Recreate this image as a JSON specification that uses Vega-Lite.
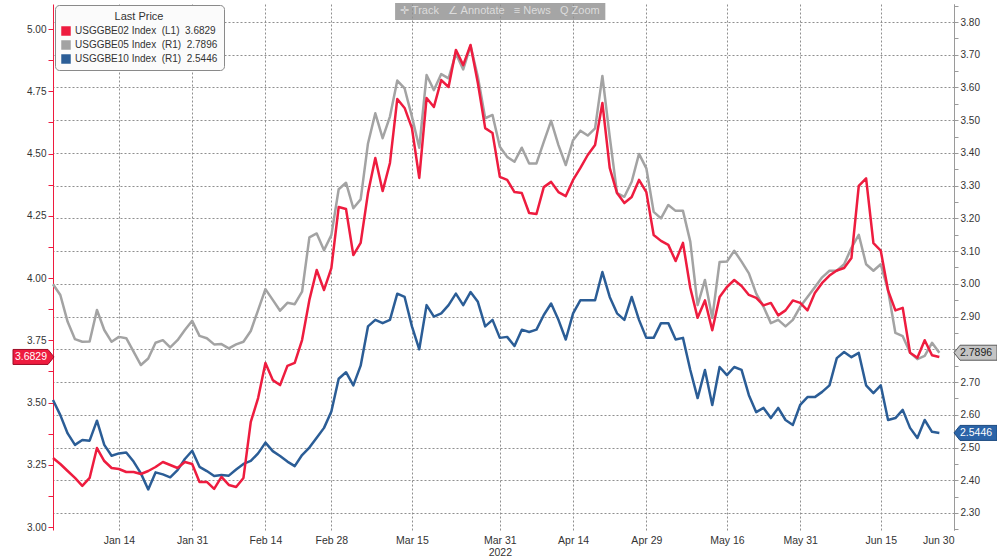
{
  "$schema": "https://vega.github.io/schema/vega-lite/v6.json",
  "width": 901,
  "height": 526,
  "autosize": {"type": "none"},
  "padding": {"left": 53, "top": 4, "right": 43, "bottom": 27},
  "background": "white",
  "config": {"view": {"stroke": null}, "font": "Liberation Sans"},
  "data": {"values": [
    {"date":"2022-01-03","t":0,"be02":3.277,"be05":2.999,"be10":2.645},
    {"date":"2022-01-04","t":1,"be02":3.253,"be05":2.966,"be10":2.599},
    {"date":"2022-01-05","t":2,"be02":3.225,"be05":2.884,"be10":2.543},
    {"date":"2022-01-06","t":3,"be02":3.197,"be05":2.831,"be10":2.508},
    {"date":"2022-01-07","t":4,"be02":3.165,"be05":2.823,"be10":2.523},
    {"date":"2022-01-10","t":5,"be02":3.197,"be05":2.824,"be10":2.521},
    {"date":"2022-01-11","t":6,"be02":3.317,"be05":2.920,"be10":2.582},
    {"date":"2022-01-12","t":7,"be02":3.265,"be05":2.859,"be10":2.508},
    {"date":"2022-01-13","t":8,"be02":3.237,"be05":2.823,"be10":2.475},
    {"date":"2022-01-14","t":9,"be02":3.233,"be05":2.838,"be10":2.482},
    {"date":"2022-01-18","t":10,"be02":3.221,"be05":2.834,"be10":2.485},
    {"date":"2022-01-19","t":11,"be02":3.221,"be05":2.793,"be10":2.457},
    {"date":"2022-01-20","t":12,"be02":3.213,"be05":2.752,"be10":2.421},
    {"date":"2022-01-21","t":13,"be02":3.225,"be05":2.772,"be10":2.372},
    {"date":"2022-01-24","t":14,"be02":3.241,"be05":2.820,"be10":2.424},
    {"date":"2022-01-25","t":15,"be02":3.261,"be05":2.828,"be10":2.418},
    {"date":"2022-01-26","t":16,"be02":3.249,"be05":2.806,"be10":2.409},
    {"date":"2022-01-27","t":17,"be02":3.237,"be05":2.828,"be10":2.431},
    {"date":"2022-01-28","t":18,"be02":3.261,"be05":2.859,"be10":2.465},
    {"date":"2022-01-31","t":19,"be02":3.253,"be05":2.887,"be10":2.490},
    {"date":"2022-02-01","t":20,"be02":3.181,"be05":2.841,"be10":2.441},
    {"date":"2022-02-02","t":21,"be02":3.181,"be05":2.834,"be10":2.428},
    {"date":"2022-02-03","t":22,"be02":3.153,"be05":2.815,"be10":2.413},
    {"date":"2022-02-04","t":23,"be02":3.201,"be05":2.816,"be10":2.416},
    {"date":"2022-02-07","t":24,"be02":3.169,"be05":2.803,"be10":2.414},
    {"date":"2022-02-08","t":25,"be02":3.161,"be05":2.815,"be10":2.433},
    {"date":"2022-02-09","t":26,"be02":3.197,"be05":2.823,"be10":2.450},
    {"date":"2022-02-10","t":27,"be02":3.422,"be05":2.856,"be10":2.459},
    {"date":"2022-02-11","t":28,"be02":3.518,"be05":2.920,"be10":2.482},
    {"date":"2022-02-14","t":29,"be02":3.659,"be05":2.984,"be10":2.515},
    {"date":"2022-02-15","t":30,"be02":3.590,"be05":2.951,"be10":2.489},
    {"date":"2022-02-16","t":31,"be02":3.570,"be05":2.918,"be10":2.474},
    {"date":"2022-02-17","t":32,"be02":3.647,"be05":2.942,"be10":2.457},
    {"date":"2022-02-18","t":33,"be02":3.659,"be05":2.938,"be10":2.443},
    {"date":"2022-02-22","t":34,"be02":3.751,"be05":2.976,"be10":2.477},
    {"date":"2022-02-23","t":35,"be02":3.912,"be05":3.142,"be10":2.500},
    {"date":"2022-02-24","t":36,"be02":4.032,"be05":3.154,"be10":2.530},
    {"date":"2022-02-25","t":37,"be02":3.952,"be05":3.103,"be10":2.560},
    {"date":"2022-02-28","t":38,"be02":4.040,"be05":3.149,"be10":2.610},
    {"date":"2022-03-01","t":39,"be02":4.285,"be05":3.289,"be10":2.710},
    {"date":"2022-03-02","t":40,"be02":4.277,"be05":3.309,"be10":2.730},
    {"date":"2022-03-03","t":41,"be02":4.092,"be05":3.231,"be10":2.690},
    {"date":"2022-03-04","t":42,"be02":4.141,"be05":3.258,"be10":2.750},
    {"date":"2022-03-07","t":43,"be02":4.341,"be05":3.429,"be10":2.870},
    {"date":"2022-03-08","t":44,"be02":4.482,"be05":3.521,"be10":2.890},
    {"date":"2022-03-09","t":45,"be02":4.349,"be05":3.445,"be10":2.880},
    {"date":"2022-03-10","t":46,"be02":4.462,"be05":3.511,"be10":2.890},
    {"date":"2022-03-11","t":47,"be02":4.719,"be05":3.621,"be10":2.970},
    {"date":"2022-03-14","t":48,"be02":4.683,"be05":3.597,"be10":2.960},
    {"date":"2022-03-15","t":49,"be02":4.602,"be05":3.511,"be10":2.870},
    {"date":"2022-03-16","t":50,"be02":4.402,"be05":3.416,"be10":2.800},
    {"date":"2022-03-17","t":51,"be02":4.723,"be05":3.638,"be10":2.935},
    {"date":"2022-03-18","t":52,"be02":4.687,"be05":3.592,"be10":2.900},
    {"date":"2022-03-21","t":53,"be02":4.795,"be05":3.641,"be10":2.910},
    {"date":"2022-03-22","t":54,"be02":4.767,"be05":3.628,"be10":2.935},
    {"date":"2022-03-23","t":55,"be02":4.916,"be05":3.704,"be10":2.970},
    {"date":"2022-03-24","t":56,"be02":4.855,"be05":3.655,"be10":2.935},
    {"date":"2022-03-25","t":57,"be02":4.936,"be05":3.727,"be10":2.975},
    {"date":"2022-03-28","t":58,"be02":4.783,"be05":3.633,"be10":2.945},
    {"date":"2022-03-29","t":59,"be02":4.602,"be05":3.506,"be10":2.870},
    {"date":"2022-03-30","t":60,"be02":4.582,"be05":3.516,"be10":2.890},
    {"date":"2022-03-31","t":61,"be02":4.406,"be05":3.419,"be10":2.835},
    {"date":"2022-04-01","t":62,"be02":4.394,"be05":3.388,"be10":2.838},
    {"date":"2022-04-04","t":63,"be02":4.345,"be05":3.373,"be10":2.810},
    {"date":"2022-04-05","t":64,"be02":4.341,"be05":3.416,"be10":2.860},
    {"date":"2022-04-06","t":65,"be02":4.261,"be05":3.368,"be10":2.853},
    {"date":"2022-04-07","t":66,"be02":4.257,"be05":3.368,"be10":2.860},
    {"date":"2022-04-08","t":67,"be02":4.365,"be05":3.434,"be10":2.905},
    {"date":"2022-04-11","t":68,"be02":4.386,"be05":3.498,"be10":2.940},
    {"date":"2022-04-12","t":69,"be02":4.345,"be05":3.424,"be10":2.890},
    {"date":"2022-04-13","t":70,"be02":4.329,"be05":3.363,"be10":2.830},
    {"date":"2022-04-14","t":71,"be02":4.394,"be05":3.439,"be10":2.910},
    {"date":"2022-04-18","t":72,"be02":4.442,"be05":3.468,"be10":2.950},
    {"date":"2022-04-19","t":73,"be02":4.494,"be05":3.453,"be10":2.950},
    {"date":"2022-04-20","t":74,"be02":4.534,"be05":3.475,"be10":2.950},
    {"date":"2022-04-21","t":75,"be02":4.703,"be05":3.635,"be10":3.036},
    {"date":"2022-04-22","t":76,"be02":4.442,"be05":3.450,"be10":2.960},
    {"date":"2022-04-25","t":77,"be02":4.341,"be05":3.277,"be10":2.910},
    {"date":"2022-04-26","t":78,"be02":4.301,"be05":3.266,"be10":2.890},
    {"date":"2022-04-27","t":79,"be02":4.325,"be05":3.312,"be10":2.960},
    {"date":"2022-04-28","t":80,"be02":4.394,"be05":3.397,"be10":2.890},
    {"date":"2022-04-29","t":81,"be02":4.345,"be05":3.353,"be10":2.835},
    {"date":"2022-05-02","t":82,"be02":4.173,"be05":3.220,"be10":2.835},
    {"date":"2022-05-03","t":83,"be02":4.149,"be05":3.200,"be10":2.880},
    {"date":"2022-05-04","t":84,"be02":4.133,"be05":3.241,"be10":2.880},
    {"date":"2022-05-05","t":85,"be02":4.068,"be05":3.223,"be10":2.830},
    {"date":"2022-05-06","t":86,"be02":4.141,"be05":3.223,"be10":2.835},
    {"date":"2022-05-09","t":87,"be02":3.960,"be05":3.129,"be10":2.737},
    {"date":"2022-05-10","t":88,"be02":3.840,"be05":2.935,"be10":2.651},
    {"date":"2022-05-11","t":89,"be02":3.910,"be05":3.012,"be10":2.737},
    {"date":"2022-05-12","t":90,"be02":3.790,"be05":2.896,"be10":2.630},
    {"date":"2022-05-13","t":91,"be02":3.924,"be05":3.067,"be10":2.746},
    {"date":"2022-05-16","t":92,"be02":3.964,"be05":3.068,"be10":2.721},
    {"date":"2022-05-17","t":93,"be02":3.992,"be05":3.101,"be10":2.746},
    {"date":"2022-05-18","t":94,"be02":3.968,"be05":3.068,"be10":2.737},
    {"date":"2022-05-19","t":95,"be02":3.932,"be05":3.032,"be10":2.660},
    {"date":"2022-05-20","t":96,"be02":3.920,"be05":2.970,"be10":2.608},
    {"date":"2022-05-23","t":97,"be02":3.890,"be05":2.930,"be10":2.621},
    {"date":"2022-05-24","t":98,"be02":3.900,"be05":2.880,"be10":2.590},
    {"date":"2022-05-25","t":99,"be02":3.850,"be05":2.890,"be10":2.621},
    {"date":"2022-05-26","t":100,"be02":3.870,"be05":2.870,"be10":2.584},
    {"date":"2022-05-27","t":101,"be02":3.910,"be05":2.890,"be10":2.569},
    {"date":"2022-05-31","t":102,"be02":3.900,"be05":2.930,"be10":2.630},
    {"date":"2022-06-01","t":103,"be02":3.870,"be05":2.960,"be10":2.654},
    {"date":"2022-06-02","t":104,"be02":3.940,"be05":2.990,"be10":2.654},
    {"date":"2022-06-03","t":105,"be02":3.980,"be05":3.020,"be10":2.670},
    {"date":"2022-06-06","t":106,"be02":4.010,"be05":3.040,"be10":2.690},
    {"date":"2022-06-07","t":107,"be02":4.030,"be05":3.040,"be10":2.773},
    {"date":"2022-06-08","t":108,"be02":4.040,"be05":3.060,"be10":2.792},
    {"date":"2022-06-09","t":109,"be02":4.080,"be05":3.110,"be10":2.776},
    {"date":"2022-06-10","t":110,"be02":4.370,"be05":3.150,"be10":2.789},
    {"date":"2022-06-13","t":111,"be02":4.400,"be05":3.060,"be10":2.690},
    {"date":"2022-06-14","t":112,"be02":4.140,"be05":3.040,"be10":2.666},
    {"date":"2022-06-15","t":113,"be02":4.110,"be05":3.060,"be10":2.690},
    {"date":"2022-06-16","t":114,"be02":3.950,"be05":2.980,"be10":2.584},
    {"date":"2022-06-17","t":115,"be02":3.870,"be05":2.850,"be10":2.590},
    {"date":"2022-06-21","t":116,"be02":3.880,"be05":2.840,"be10":2.615},
    {"date":"2022-06-22","t":117,"be02":3.700,"be05":2.790,"be10":2.560},
    {"date":"2022-06-23","t":118,"be02":3.680,"be05":2.770,"be10":2.529},
    {"date":"2022-06-24","t":119,"be02":3.750,"be05":2.780,"be10":2.584},
    {"date":"2022-06-27","t":120,"be02":3.690,"be05":2.820,"be10":2.548},
    {"date":"2022-06-28","t":121,"be02":3.6829,"be05":2.7896,"be10":2.5446}
  ]},
  "encoding": {
    "x": {
      "field": "t", "type": "quantitative",
      "scale": {"domain": [0, 123], "nice": false, "zero": false},
      "axis": {
        "title": null,
        "values": [9, 19, 29, 38, 49, 61, 71, 81, 92, 102, 113, 123],
        "labelExpr": "datum.value == 61 ? ['Mar 31', '2022'] : ['Jan 14','Jan 31','Feb 14','Feb 28','Mar 15','Mar 31','Apr 14','Apr 29','May 16','May 31','Jun 15','Jun 30'][indexof([9,19,29,38,49,61,71,81,92,102,113,123], datum.value)]",
        "domain": false, "ticks": false,
        "grid": true, "gridDash": [2, 2], "gridColor": "#8f8f8f", "gridWidth": 1,
        "labelPadding": 5, "labelFlush": true, "labelFlushOffset": 0,
        "labelFontSize": 10.5, "labelColor": "#333333", "labelOverlap": false, "labelLineHeight": 12
      }
    }
  },
  "layer": [
    {
      "encoding": {
        "y": {
          "field": "value", "type": "quantitative",
          "scale": {"domain": [2.248, 3.855], "nice": false, "zero": false},
          "axis": {
            "orient": "right", "title": null,
            "values": [2.25,2.3,2.35,2.4,2.45,2.5,2.55,2.6,2.65,2.7,2.75,2.8,2.85,2.9,2.95,3,3.05,3.1,3.15,3.2,3.25,3.3,3.35,3.4,3.45,3.5,3.55,3.6,3.65,3.7,3.75,3.8,3.85],
            "labelExpr": "round(datum.value*100) % 10 === 0 && round(datum.value*100) != 280 ? format(datum.value, '.2f') : ''",
            "grid": true, "gridDash": [2, 2], "gridColor": "#8f8f8f",
            "gridOpacity": {"condition": {"test": "round(datum.value*100) % 10 === 0", "value": 1}, "value": 0},
            "domainColor": "#9a9a9a", "tickColor": "#9a9a9a", "tickSize": 4,
            "labelPadding": 2, "labelColor": "#333333", "labelFontSize": 10
          }
        }
      },
      "layer": [
        {
          "transform": [{"fold": ["be05", "be10"]}],
          "mark": {"type": "line", "strokeWidth": 2.5, "strokeJoin": "round"},
          "encoding": {
            "color": {
              "field": "key", "type": "nominal",
              "scale": {"domain": ["be02", "be05", "be10"], "range": ["#ee1c3f", "#a3a3a3", "#2b5d96"]},
              "legend": {
                "orient": "none", "legendX": 2, "legendY": 1,
                "title": "Last Price", "titleFontSize": 11, "titleFontWeight": "normal", "titleColor": "#333333",
                "titleAnchor": "middle", "titlePadding": 4,
                "padding": 6, "fillColor": "#fbfbfb", "strokeColor": "#8a8a8a", "cornerRadius": 4,
                "symbolType": "square", "symbolSize": 90, "symbolStrokeWidth": 0,
                "labelFontSize": 10, "labelColor": "#333333", "labelOffset": 4, "rowPadding": 4,
                "labelExpr": "datum.label == 'be02' ? 'USGGBE02 Index\u00a0\u00a0(L1)\u00a0\u00a03.6829' : datum.label == 'be05' ? 'USGGBE05 Index\u00a0\u00a0(R1)\u00a0\u00a02.7896' : 'USGGBE10 Index\u00a0\u00a0(R1)\u00a0\u00a02.5446'",
                "encode": {"symbols": {"update": {"fill": {"scale": "color", "field": "value"}, "fillOpacity": {"value": 1}, "stroke": {"value": "transparent"}}}}
              }
            }
          }
        },
        {
          "transform": [{"fold": ["be05", "be10"]}, {"filter": "datum.t == 121"}],
          "mark": {"type": "point", "shape": "M0,0L0.6,-0.75L4.3,-0.75L4.3,0.75L0.6,0.75Z", "size": 400, "filled": true, "opacity": 1, "strokeWidth": 1},
          "encoding": {
            "x": {"datum": 123},
            "fill": {"condition": {"test": "datum.key == 'be05'", "value": "#c4c4c4"}, "value": "#2b64a8"},
            "stroke": {"condition": {"test": "datum.key == 'be05'", "value": "#5a5a5a"}, "value": "#1d4a80"}
          }
        },
        {
          "transform": [{"fold": ["be05", "be10"]}, {"filter": "datum.t == 121"}],
          "mark": {"type": "text", "align": "left", "baseline": "middle", "dx": 6, "fontSize": 10.5},
          "encoding": {
            "x": {"datum": 123},
            "text": {"field": "value", "format": ".4f"},
            "color": {"condition": {"test": "datum.key == 'be05'", "value": "#222222"}, "value": "#ffffff"}
          }
        }
      ]
    },
    {
      "encoding": {
        "y": {
          "field": "value", "type": "quantitative",
          "scale": {"domain": [2.988, 5.1004], "nice": false, "zero": false},
          "axis": {
            "orient": "left", "title": null,
            "values": [3,3.125,3.25,3.375,3.5,3.625,3.75,3.875,4,4.125,4.25,4.375,4.5,4.625,4.75,4.875,5],
            "labelExpr": "round(datum.value*100) % 25 === 0 ? format(datum.value, '.2f') : ''",
            "grid": false,
            "domainColor": "#ee1c3f", "tickColor": "#ee1c3f", "tickSize": 5,
            "labelPadding": 2, "labelColor": "#333333", "labelFontSize": 10
          }
        }
      },
      "layer": [
        {
          "transform": [{"fold": ["be02"]}],
          "mark": {"type": "line", "strokeWidth": 2.5, "strokeJoin": "round"},
          "encoding": {
            "color": {
              "field": "key", "type": "nominal",
              "scale": {"domain": ["be02", "be05", "be10"], "range": ["#ee1c3f", "#a3a3a3", "#2b5d96"]},
              "legend": {
                "orient": "none", "legendX": 2, "legendY": 1,
                "title": "Last Price", "titleFontSize": 11, "titleFontWeight": "normal", "titleColor": "#333333",
                "titleAnchor": "middle", "titlePadding": 4,
                "padding": 6, "fillColor": "#fbfbfb", "strokeColor": "#8a8a8a", "cornerRadius": 4,
                "symbolType": "square", "symbolSize": 90, "symbolStrokeWidth": 0,
                "labelFontSize": 10, "labelColor": "#333333", "labelOffset": 4, "rowPadding": 4,
                "labelExpr": "datum.label == 'be02' ? 'USGGBE02 Index\u00a0\u00a0(L1)\u00a0\u00a03.6829' : datum.label == 'be05' ? 'USGGBE05 Index\u00a0\u00a0(R1)\u00a0\u00a02.7896' : 'USGGBE10 Index\u00a0\u00a0(R1)\u00a0\u00a02.5446'",
                "encode": {"symbols": {"update": {"fill": {"scale": "color", "field": "value"}, "fillOpacity": {"value": 1}, "stroke": {"value": "transparent"}}}}
              }
            }
          }
        },
        {
          "transform": [{"fold": ["be02"]}, {"filter": "datum.t == 121"}],
          "mark": {"type": "point", "shape": "M0.1,0L-0.5,-0.75L-4.0,-0.75L-4.0,0.75L-0.5,0.75Z", "size": 400, "filled": true, "opacity": 1, "fill": "#ee1c3f", "stroke": "#9e0c26", "strokeWidth": 1},
          "encoding": {"x": {"datum": 0}}
        },
        {
          "transform": [{"fold": ["be02"]}, {"filter": "datum.t == 121"}],
          "mark": {"type": "text", "align": "center", "baseline": "middle", "dx": -22, "fontSize": 10.5, "fill": "#ffffff"},
          "encoding": {"x": {"datum": 0}, "text": {"field": "value", "format": ".4f"}}
        }
      ]
    },
    {
      "transform": [{"filter": "datum.t == 0"}],
      "encoding": {
        "y": {"datum": 3.858, "type": "quantitative", "scale": {"domain": [2.248, 3.855], "nice": false, "zero": false}, "axis": null}
      },
      "layer": [
        {
          "mark": {"type": "rect", "fill": "#8e8e8e", "opacity": 0.8},
          "encoding": {"x": {"datum": 46.7}, "x2": {"datum": 75.4}, "y2": {"datum": 3.806}}
        },
        {
          "mark": {"type": "text", "text": "\u271b Track\u00a0\u00a0\u00a0\u2220 Annotate\u00a0\u00a0\u00a0\u2261 News\u00a0\u00a0\u00a0Q Zoom", "fill": "#dcdcdc", "fontSize": 11, "align": "center", "baseline": "middle", "dy": 8},
          "encoding": {"x": {"datum": 61}}
        }
      ]
    }
  ],
  "resolve": {"scale": {"y": "independent"}}
}
